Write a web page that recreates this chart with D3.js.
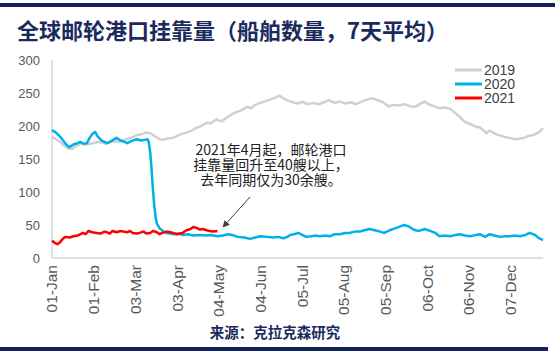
<!DOCTYPE html>
<html><head><meta charset="utf-8">
<script src="https://cdn.jsdelivr.net/npm/d3@7"></script>
<style>
html,body{margin:0;padding:0;background:#fff;}
svg{display:block;}
</style></head>
<body>
<script>
// ---- data (day index from 01-Jan, value = ships, 7-day average) ----
const tickDays   = [0, 31, 62, 93, 124, 155, 186, 217, 248, 279, 310, 341];
const tickLabels = ["01-Jan","01-Feb","03-Mar","03-Apr","04-May","04-Jun","05-Jul","05-Aug","05-Sep","06-Oct","06-Nov","07-Dec"];
const yTicks = [0, 50, 100, 150, 200, 250, 300];
const seriesNames = ["2019", "2020", "2021"];

const data2019 = [[0,183],[3,180],[6,176],[9,170],[12,166],[15,165],[18,170],[21,173],[25,172],[30,174],[35,176],[40,173],[45,177],[50,176],[55,180],[60,183],[63,186],[67,188],[70,190],[73,189],[77,184],[80,180],[82,179],[86,181],[90,182],[95,187],[100,190],[103,192],[107,197],[110,199],[115,205],[118,204],[122,210],[126,207],[130,213],[134,218],[137,221],[141,224],[145,229],[148,227],[151,232],[155,235],[158,237],[162,240],[166,243],[169,246],[172,242],[176,238],[179,236],[183,234],[186,237],[190,233],[194,235],[198,233],[202,236],[206,239],[210,235],[214,237],[218,234],[222,236],[226,233],[230,237],[234,240],[238,242],[242,239],[246,236],[250,230],[254,232],[258,231],[262,233],[266,230],[270,229],[274,234],[277,237],[280,233],[284,230],[288,227],[292,228],[296,226],[299,221],[303,214],[307,206],[311,203],[315,199],[318,198],[321,193],[323,189],[325,193],[328,190],[331,187],[334,185],[337,183],[340,182],[344,180],[348,181],[351,182],[354,185],[357,186],[360,188],[363,192],[365,197]];

const data2020 = [[0,194],[3,190],[6,184],[9,176],[11,171],[13,168],[16,172],[19,174],[21,176],[24,173],[26,174],[28,182],[30,188],[32,191],[34,184],[37,178],[41,174],[44,177],[48,182],[51,178],[54,176],[56,174],[59,177],[63,180],[66,178],[69,179],[71,180],[72,175],[73,160],[74,135],[75,105],[76,80],[77,62],[78,52],[80,45],[83,40],[85,38],[88,37],[91,36],[94,37],[97,35],[101,36],[105,34],[110,35],[114,34],[118,35],[123,33],[127,34],[131,36],[134,35],[138,32],[143,31],[147,29],[151,31],[155,33],[160,32],[164,31],[168,32],[172,30],[175,32],[177,35],[180,36],[183,38],[186,35],[189,32],[193,33],[196,34],[199,33],[203,34],[207,33],[210,36],[214,36],[218,38],[221,38],[225,40],[229,40],[232,42],[236,44],[240,42],[244,40],[247,38],[251,42],[255,45],[259,48],[262,50],[265,48],[268,44],[270,42],[273,41],[277,44],[281,41],[285,38],[288,33],[292,34],[296,33],[300,35],[303,36],[307,34],[311,33],[315,35],[318,36],[322,32],[325,36],[329,34],[333,32],[337,33],[340,33],[344,34],[348,33],[352,35],[355,38],[359,35],[362,30],[365,27]];

const data2021 = [[0,26],[2,23],[4,21],[6,24],[8,29],[10,32],[13,31],[16,33],[19,34],[23,38],[25,36],[27,41],[30,39],[33,38],[36,37],[39,40],[41,39],[43,37],[45,41],[48,39],[51,41],[53,40],[56,39],[58,41],[60,38],[63,37],[65,38],[68,40],[70,37],[73,38],[75,41],[78,39],[80,36],[82,38],[85,40],[88,39],[90,38],[93,36],[95,37],[97,38],[100,42],[103,44],[105,47],[107,46],[110,43],[112,44],[115,42],[117,41],[120,40],[123,41]];

const colors = {"2019":"#d0d0d0","2020":"#00b0e8","2021":"#ff0000"};

// ---- drawing ----
const W = 555, H = 356;
const svg = d3.select("body").append("svg").attr("width", W).attr("height", H);
const navy = "#12245e";

svg.append("rect").attr("x",0).attr("y",3).attr("width",W).attr("height",4).attr("fill",navy);
svg.append("rect").attr("x",0).attr("y",347).attr("width",548).attr("height",4).attr("fill",navy);

svg.append("text").attr("x",17).attr("y",39)
  .attr("font-family","'Noto Sans CJK SC', sans-serif").attr("font-weight","bold")
  .attr("font-size",22).attr("fill","#1b2a5c")
  .text("全球邮轮港口挂靠量（船舶数量，7天平均）");

const x = d3.scaleLinear().domain([0,365]).range([52,543]);
const y = d3.scaleLinear().domain([0,300]).range([258,60]);

// axes lines
svg.append("line").attr("x1",52).attr("x2",52).attr("y1",y(300)).attr("y2",y(0)).attr("stroke","#bfbfbf").attr("stroke-width",1);
svg.append("line").attr("x1",52).attr("x2",543).attr("y1",y(0)).attr("y2",y(0)).attr("stroke","#bfbfbf").attr("stroke-width",1);

// y labels
svg.append("g").selectAll("text").data(yTicks).join("text")
  .attr("x",40).attr("y",d=>y(d)).attr("dy","0.35em").attr("text-anchor","end")
  .attr("font-family","'Liberation Sans', Arial, sans-serif").attr("font-size",13).attr("fill","#595959")
  .text(d=>d);

// x labels
svg.append("g").selectAll("text").data(tickDays).join("text")
  .attr("transform",d=>`translate(${x(d)},265) rotate(-90)`)
  .attr("dy","0.35em").attr("text-anchor","end")
  .attr("font-family","'Liberation Sans', Arial, sans-serif").attr("font-size",15.5).attr("fill","#595959")
  .text((d,i)=>tickLabels[i]);

const line = d3.line().x(d=>x(d[0])).y(d=>y(d[1])).curve(d3.curveLinear);
const all = {"2019":data2019,"2020":data2020,"2021":data2021};
seriesNames.forEach(n=>{
  svg.append("path").datum(all[n]).attr("d",line).attr("fill","none")
    .attr("stroke",colors[n]).attr("stroke-width",2.5).attr("stroke-linejoin","round");
});

// legend
seriesNames.forEach((n,i)=>{
  const ly = 70 + i*14;
  svg.append("line").attr("x1",455).attr("x2",482).attr("y1",ly).attr("y2",ly).attr("stroke",colors[n]).attr("stroke-width",3);
  svg.append("text").attr("x",484).attr("y",ly).attr("dy","0.35em")
    .attr("font-family","'Liberation Sans', Arial, sans-serif").attr("font-size",14).attr("fill","#404040").text(n);
});

// annotation
const ann = ["2021年4月起，邮轮港口","挂靠量回升至40艘以上，","去年同期仅为30余艘。"];
svg.append("g").selectAll("text").data(ann).join("text")
  .attr("x",271).attr("y",(d,i)=>150+i*15).attr("dy","0.35em").attr("text-anchor","middle")
  .attr("font-family","'Noto Sans CJK SC', sans-serif").attr("font-size",14).attr("fill","#222")
  .text(d=>d);

const defs = svg.append("defs");
defs.append("marker").attr("id","arr").attr("viewBox","0 0 10 10").attr("refX",9).attr("refY",5)
  .attr("markerWidth",7).attr("markerHeight",7).attr("orient","auto")
  .append("path").attr("d","M0,0 L10,5 L0,10 z").attr("fill","#404040");
svg.append("line").attr("x1",250).attr("y1",197).attr("x2",223).attr("y2",227)
  .attr("stroke","#404040").attr("stroke-width",1).attr("marker-end","url(#arr)");

// source
svg.append("text").attr("x",275).attr("y",338).attr("text-anchor","middle")
  .attr("font-family","'Noto Sans CJK SC', sans-serif").attr("font-weight","bold")
  .attr("font-size",14.5).attr("fill","#1b2a5c").text("来源：克拉克森研究");
</script>
</body></html>
